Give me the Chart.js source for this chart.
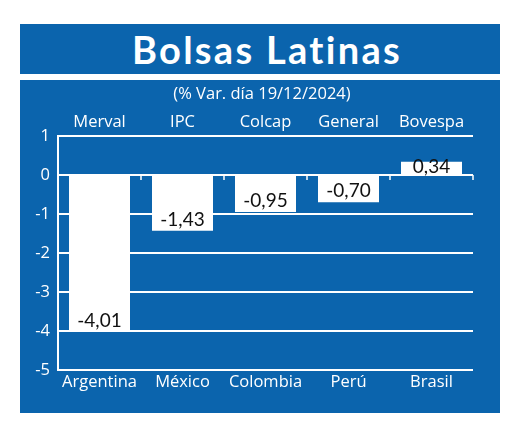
<!DOCTYPE html>
<html><head><meta charset="utf-8">
<script src="https://cdn.jsdelivr.net/npm/chart.js@4"></script>
<style>
html,body{margin:0;padding:0;background:#fff;width:520px;height:431px;overflow:hidden;}
#title{position:absolute;left:20px;top:24px;width:480px;height:50px;background:#0b64ad;color:#fff;font-family:Lato;font-weight:bold;font-size:38px;letter-spacing:2.3px;text-align:center;line-height:50px;padding-left:14px;box-sizing:border-box;}
#box{position:absolute;left:20px;top:80px;width:480px;height:333px;background:#0b64ad;}
#sub{position:absolute;left:0;top:2px;width:480px;padding-left:4px;box-sizing:border-box;text-align:center;color:#fff;font-family:'Open Sans';font-size:16.5px;line-height:22px;}
#wrap{position:absolute;left:0;top:0;width:480px;height:333px;}
</style></head>
<body>
<div id="title">Bolsas Latinas</div>
<div id="box">
  <div id="wrap"><canvas id="c"></canvas></div>
  <div id="sub">(% Var. día 19/12/2024)</div>
</div>
<script>
const countries = ['Argentina', 'México', 'Colombia', 'Perú', 'Brasil'];
const indices = ['Merval', 'IPC', 'Colcap', 'General', 'Bovespa'];
const changes = [-4.01, -1.43, -0.95, -0.70, 0.34];
const yMin = -5;
const yMax = 1;

const tickFont = {family: "'Open Sans'", size: 16.5};

const valueLabels = {
  id: 'valueLabels',
  afterDatasetsDraw(chart) {
    const ctx = chart.ctx;
    const meta = chart.getDatasetMeta(0);
    const ys = chart.scales.y;
    const xs = chart.scales.x;
    ctx.save();
    const y0 = ys.getPixelForValue(0);
    ctx.strokeStyle = '#fff';
    ctx.lineWidth = 1.5;
    for (let i = 1; i <= countries.length; i++) {
      const x = xs.getPixelForValue(i - 0.5);
      ctx.beginPath();
      ctx.moveTo(x, y0);
      ctx.lineTo(x, y0 + 5);
      ctx.stroke();
    }
    ctx.font = "19px Lato";
    ctx.fillStyle = '#111';
    ctx.textAlign = 'center';
    ctx.textBaseline = 'middle';
    meta.data.forEach((bar, i) => {
      const v = changes[i];
      const txt = v.toFixed(2).replace('.', ',');
      const y = v < 0 ? bar.y - 11 : bar.y + 5;
      ctx.fillText(txt, bar.x, y);
    });
    ctx.restore();
  }
};

new Chart(document.getElementById('c'), {
  type: 'bar',
  data: {
    labels: countries,
    datasets: [{
      data: changes,
      backgroundColor: '#ffffff',
      borderWidth: 0,
      barPercentage: 0.735,
      categoryPercentage: 1.0,
      xAxisID: 'x',
      yAxisID: 'y'
    }]
  },
  options: {
    responsive: true,
    maintainAspectRatio: false,
    devicePixelRatio: 1,
    animation: false,
    layout: {padding: {top: 30, bottom: 18, left: 0, right: 27}},
    plugins: {legend: {display: false}, tooltip: {enabled: false}},
    scales: {
      x: {
        type: 'category',
        position: 'bottom',
        grid: {display: false, drawTicks: false},
        border: {display: false},
        ticks: {color: '#fff', font: tickFont, padding: 2, maxRotation: 0, autoSkip: false},
        afterFit(s) { s.height = 25; }
      },
      x2: {
        type: 'category',
        position: 'top',
        labels: indices,
        grid: {display: false, drawTicks: false},
        border: {display: false},
        ticks: {color: '#fff', font: tickFont, padding: 4, maxRotation: 0, autoSkip: false},
        afterFit(s) { s.height = 26; }
      },
      y: {
        min: yMin,
        max: yMax,
        grid: {color: '#fff', lineWidth: 2, drawTicks: false},
        border: {display: true, color: '#fff', width: 2},
        ticks: {stepSize: 1, color: '#fff', font: tickFont, padding: 8,
          callback: v => String(v)},
        afterFit(s) { s.width = 38; }
      }
    }
  },
  plugins: [valueLabels]
});
</script>
</body></html>
